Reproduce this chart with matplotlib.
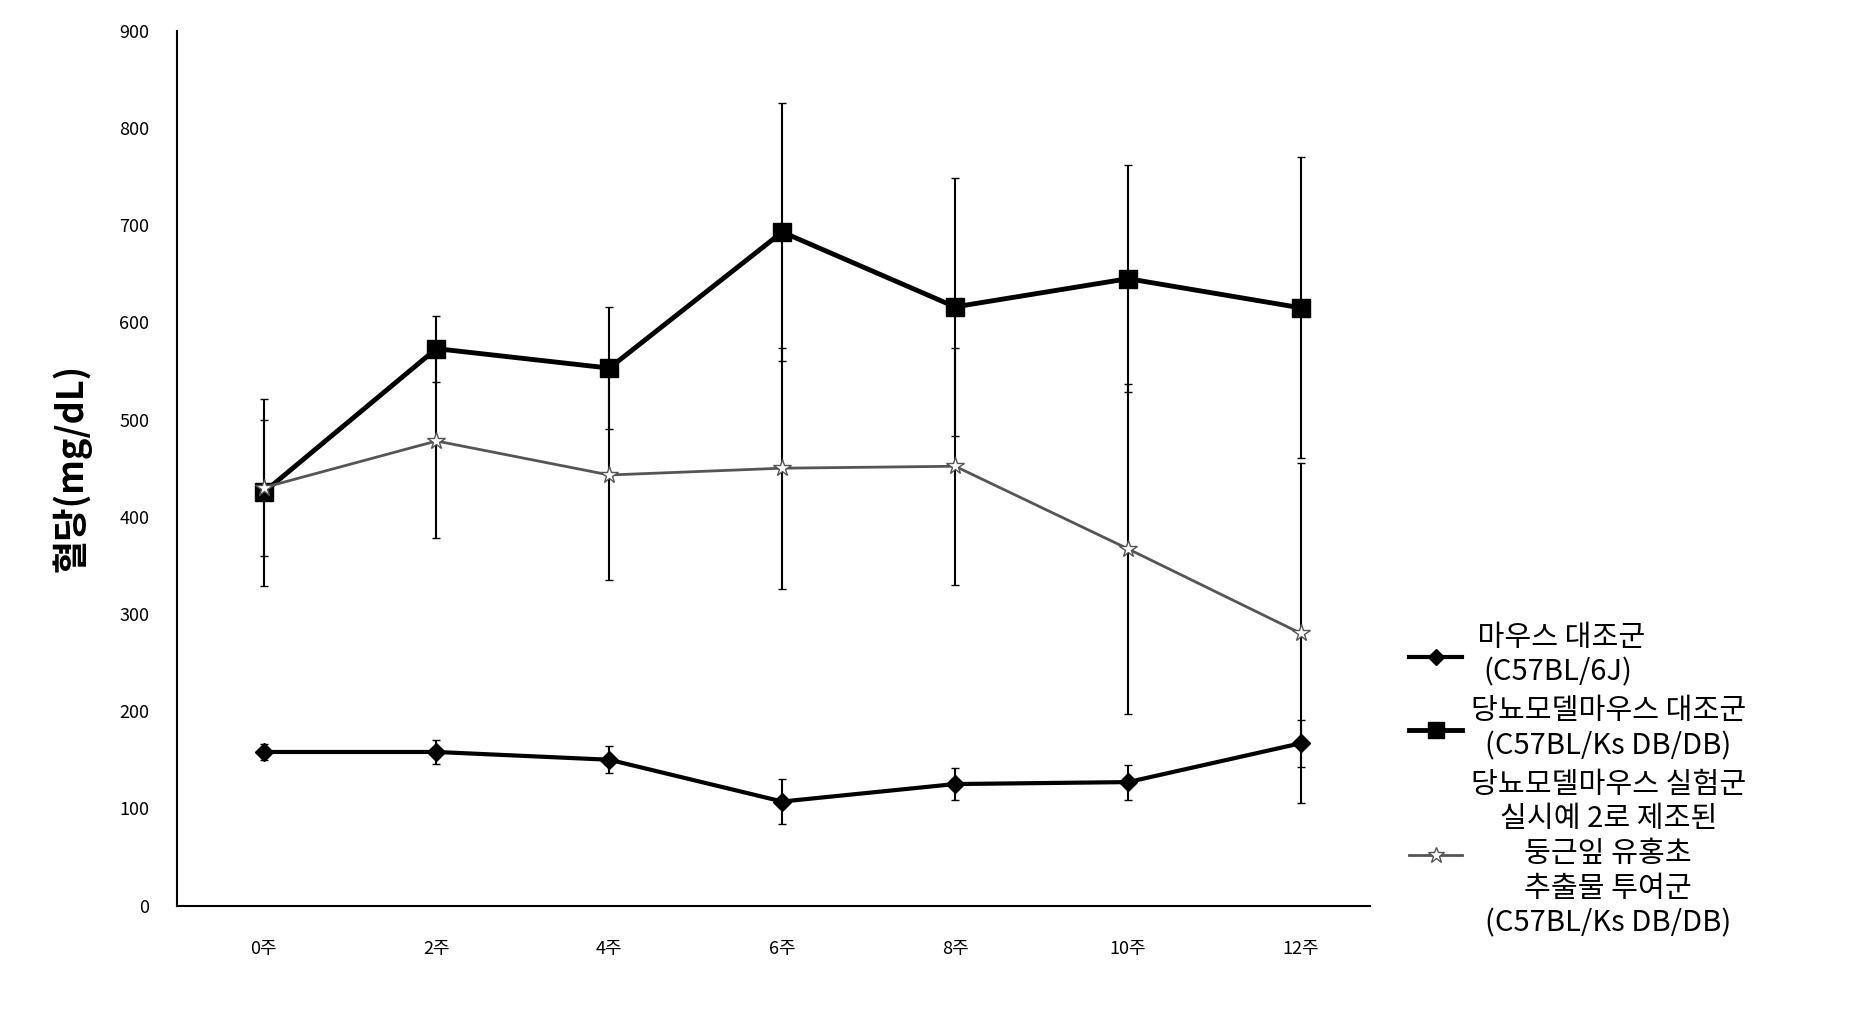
import numpy as np
import matplotlib.pyplot as plt
from matplotlib.lines import Line2D

plt.rcParams['font.family'] = 'Noto Sans CJK KR'

weeks = ['0주', '2주', '4주', '6주', '8주', '10주', '12주']
ctrl = [158, 158, 150, 107, 125, 127, 167]
ctrl_err = [8, 12, 14, 23, 16, 18, 24]
db = [425, 573, 553, 693, 616, 645, 615]
db_err = [96, 34, 63, 133, 133, 117, 155]
treat = [430, 478, 443, 450, 452, 367, 280]
treat_err = [70, 100, 108, 124, 122, 170, 175]

x = np.arange(len(weeks))
fig = plt.figure(figsize=(18.64, 10.29), dpi=100)
ax = fig.add_axes([0.095, 0.12, 0.64, 0.85])

ax.errorbar(x, ctrl, yerr=ctrl_err, color='black', lw=3, marker='D', ms=9,
            elinewidth=1.5, capsize=3)
ax.errorbar(x, db, yerr=db_err, color='black', lw=3.5, marker='s', ms=13,
            elinewidth=1.5, capsize=3)
ax.errorbar(x, treat, yerr=treat_err, color='#555555', lw=2, marker='*', ms=13,
            mfc='white', mec='#555555', ecolor='black', elinewidth=1.5, capsize=3)

ax.set_xlim(-0.5, 6.4)
ax.set_ylim(0, 900)
ax.set_yticks(range(0, 901, 100))
ax.set_xticks(x)
ax.set_xticklabels(weeks)
ax.tick_params(length=0, labelsize=13, pad=25)
ax.tick_params(axis='y', pad=20)
for s in ['top', 'right']:
    ax.spines[s].set_visible(False)
ax.spines['left'].set_linewidth(1.5)
ax.spines['bottom'].set_linewidth(1.5)
ax.set_ylabel('혈당(mg/dL)', fontsize=26, fontweight='bold', labelpad=20)

handles = [
    Line2D([], [], color='black', lw=3, marker='D', ms=8),
    Line2D([], [], color='black', lw=3.5, marker='s', ms=12),
    Line2D([], [], color='#555555', lw=2, marker='*', ms=12, mfc='white'),
]
labels = [
    ' 마우스 대조군\n(C57BL/6J)',
    '당뇨모델마우스 대조군\n(C57BL/Ks DB/DB)',
    '당뇨모델마우스 실험군\n실시예 2로 제조된\n둥근잎 유홍초\n추출물 투여군\n(C57BL/Ks DB/DB)',
]
leg = fig.legend(handles, labels, loc='upper left', bbox_to_anchor=(0.742, 0.42),
                 frameon=False, fontsize=21, handlelength=1.8, handletextpad=0.3,
                 labelspacing=0.3)
for t in leg.get_texts():
    t.set_multialignment('center')

fig.savefig('out.png')
